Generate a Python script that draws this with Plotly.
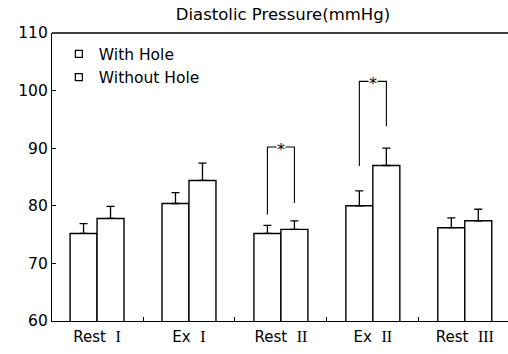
import plotly.graph_objects as go

categories = ["Rest I", "Ex I", "Rest II", "Ex II", "Rest III"]
numerals = ["I", "I", "II", "II", "III"]
prefixes = ["Rest", "Ex", "Rest", "Ex", "Rest"]
with_hole = [75.2, 80.4, 75.2, 80.0, 76.2]
with_hole_err = [1.7, 1.9, 1.4, 2.6, 1.7]
without_hole = [77.8, 84.4, 75.9, 87.0, 77.4]
without_hole_err = [2.1, 3.0, 1.5, 3.0, 2.0]

# significance brackets: category index, left-bar bottom, top, right-bar bottom
sig_idx = [2, 3]
sig_left = [78.5, 86.9]
sig_top = [90.2, 101.6]
sig_right = [80.5, 93.8]

ticktext = [f"{p}  <span style='font-family:Liberation Serif;font-size:16px'>{n}</span>"
            for p, n in zip(prefixes, numerals)]
x = list(range(len(categories)))

fig = go.Figure()
common_err = dict(type="data", symmetric=False, color="#000000", thickness=1.3, width=4)
bar_line = dict(color="#000000", width=1.4)
fig.add_trace(go.Bar(
    x=x, y=with_hole, name="With Hole", offsetgroup="a", legendgroup="a", showlegend=False,
    marker=dict(color="white", line=bar_line),
    error_y=dict(array=with_hole_err, arrayminus=[0] * 5, **common_err),
))
fig.add_trace(go.Bar(
    x=x, y=without_hole, name="Without Hole", offsetgroup="b", legendgroup="b", showlegend=False,
    marker=dict(color="white", line=bar_line),
    error_y=dict(array=without_hole_err, arrayminus=[0] * 5, **common_err),
))
# legend entries with small square symbols
for name, grp in [("With Hole", "a"), ("Without Hole", "b")]:
    fig.add_trace(go.Scatter(
        x=[None], y=[None], name=name, legendgroup=grp, mode="markers",
        marker=dict(symbol="square-open", size=7, color="#000000", line=dict(width=1.2)),
    ))

off = 0.147
for i, l, t, r in zip(sig_idx, sig_left, sig_top, sig_right):
    fig.add_trace(go.Scatter(
        x=[i - off, i - off, i + off, i + off], y=[l, t, t, r],
        mode="lines", line=dict(color="#000000", width=1.1),
        showlegend=False, hoverinfo="skip",
    ))
    fig.add_annotation(x=i, y=t, text="*", showarrow=False, bgcolor="white",
                       font=dict(size=16, color="#000000", family="DejaVu Sans"),
                       yshift=-2, borderpad=0)

# top frame line only (no right-hand frame in the reference)
fig.add_shape(type="line", xref="paper", yref="paper", x0=0, x1=1, y0=1, y1=1,
              line=dict(color="#000000", width=1.3), layer="above")

fig.update_layout(
    width=508, height=354,
    margin=dict(l=52, r=0, t=33, b=33),
    paper_bgcolor="white", plot_bgcolor="white",
    barmode="group", bargap=0.413, bargroupgap=0,
    font=dict(family="DejaVu Sans", color="#000000", size=16),
    title=dict(text="Diastolic Pressure(mmHg)", x=0.557, xanchor="center",
               y=0.961, yanchor="middle", font=dict(size=16.5)),
    showlegend=True,
    legend=dict(x=0.015, y=0.985, xanchor="left", yanchor="top",
                bgcolor="rgba(0,0,0,0)", font=dict(size=15.5),
                tracegroupgap=0, itemwidth=30),
    xaxis=dict(range=[-0.49, 4.47], tickmode="array", tickvals=x, ticktext=ticktext,
               ticks="", showline=True, linecolor="#000000", linewidth=1.3, mirror=False,
               showgrid=False, zeroline=False, tickfont=dict(size=15),
               ticklabelstandoff=2,
               minor=dict(tickmode="array", tickvals=[0.5, 1.5, 2.5, 3.5],
                          ticks="inside", ticklen=4, tickcolor="#000000", showgrid=False)),
    yaxis=dict(range=[60, 110], dtick=10, ticks="inside", ticklen=4, tickcolor="#000000",
               showline=True, linecolor="#000000", linewidth=1.3, showgrid=False,
               mirror=False, zeroline=False, tickfont=dict(size=15.5)),
)

# remove the default page margin so the figure fills the 508x354 window exactly
fig.write_html("out.html", config={"displayModeBar": False},
               post_script="document.body.style.margin='0';document.body.style.overflow='hidden';")
